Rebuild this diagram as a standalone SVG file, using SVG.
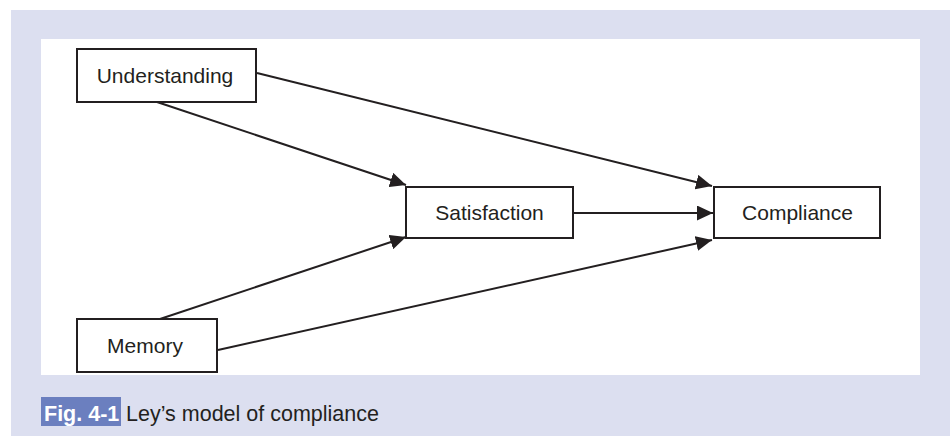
<svg xmlns="http://www.w3.org/2000/svg" width="950" height="436" viewBox="0 0 950 436">
  <style>
    .box { fill: #ffffff; stroke: #231f20; stroke-width: 2; }
    .lbl { font-family: "Liberation Sans", Arial, sans-serif; font-size: 21px; fill: #231f20; text-anchor: middle; }
    .edge { stroke: #231f20; stroke-width: 2; fill: none; marker-end: url(#arrow); }
    .cap { font-family: "Liberation Sans", Arial, sans-serif; font-size: 21.5px; }
  </style>
  <defs>
    <marker id="arrow" markerUnits="userSpaceOnUse" markerWidth="16" markerHeight="15" refX="16" refY="7.5" orient="auto">
      <path d="M0,0 L16,7.5 L0,15 Z" fill="#231f20"/>
    </marker>
  </defs>
  <rect x="11" y="10" width="939" height="426" fill="#dcdff0"/>
  <rect x="41" y="39" width="879" height="336" fill="#ffffff"/>

  <g id="connectors">
    <line class="edge" x1="257" y1="73" x2="712" y2="186"/>
    <line class="edge" x1="157" y1="102" x2="406" y2="185"/>
    <line class="edge" x1="574" y1="213" x2="713" y2="213"/>
    <line class="edge" x1="157" y1="320" x2="406" y2="237"/>
    <line class="edge" x1="218" y1="350" x2="712" y2="240"/>
  </g>

  <g id="understanding">
    <rect class="box" x="77" y="49" width="179" height="53"/>
    <text class="lbl" x="165" y="83">Understanding</text>
  </g>
  <g id="satisfaction">
    <rect class="box" x="406" y="187" width="167" height="51"/>
    <text class="lbl" x="489.5" y="220">Satisfaction</text>
  </g>
  <g id="compliance">
    <rect class="box" x="714" y="187" width="166" height="51"/>
    <text class="lbl" x="797.5" y="220">Compliance</text>
  </g>
  <g id="memory">
    <rect class="box" x="77" y="319" width="140" height="53"/>
    <text class="lbl" x="145" y="353">Memory</text>
  </g>

  <g id="caption">
    <rect x="41" y="397" width="80" height="29" fill="#6b7fbf"/>
    <text class="cap" x="44" y="421" font-weight="bold" font-size="20.5" fill="#ffffff">Fig. 4-1</text>
    <text class="cap" x="126" y="421" fill="#231f20">Ley’s model of compliance</text>
  </g>
</svg>
